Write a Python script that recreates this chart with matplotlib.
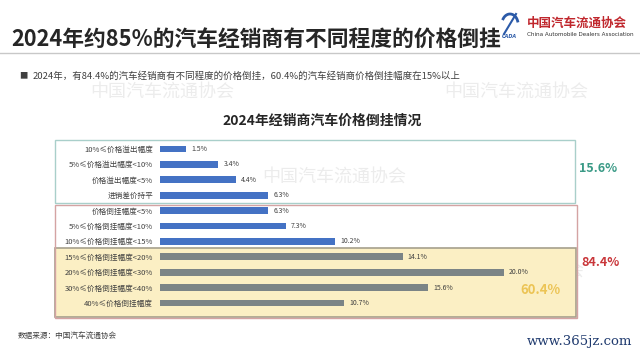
import numpy as np
import matplotlib
matplotlib.use("Agg")
import matplotlib.pyplot as plt
from matplotlib.patches import Rectangle

plt.rcParams['font.family'] = ['Noto Sans CJK SC', 'DejaVu Sans']

# data
cats = ["10%≤价格溢出幅度", "5%≤价格溢出幅度<10%", "价格溢出幅度<5%", "进销差价持平",
        "价格倒挂幅度<5%", "5%≤价格倒挂幅度<10%", "10%≤价格倒挂幅度<15%",
        "15%≤价格倒挂幅度<20%", "20%≤价格倒挂幅度<30%", "30%≤价格倒挂幅度<40%",
        "40%≤价格倒挂幅度"]
vals = [1.5, 3.4, 4.4, 6.3, 6.3, 7.3, 10.2, 14.1, 20.0, 15.6, 10.7]
groups = ["15.6%", "84.4%", "60.4%"]

W, H = 640, 356
fig = plt.figure(figsize=(W / 100, H / 100), dpi=100)

# background axes in pixel coords
bg = fig.add_axes([0, 0, 1, 1])
bg.set_xlim(0, W)
bg.set_ylim(H, 0)
bg.axis('off')

bg.text(11, 40, "2024年约85%的汽车经销商有不同程度的价格倒挂", fontsize=15.7,
        fontweight='bold', color='#262626', va='center', ha='left')
bg.plot([0, W], [53, 53], color='#c8c8c8', lw=1)

# logo
bg.text(527, 23, "中国汽车流通协会", fontsize=9, fontweight='bold', color='#c0272d',
        va='center', ha='left', family='Noto Sans CJK SC')
bg.text(527, 35, "China Automobile Dealers Association", fontsize=4.1, color='#333333',
        va='center', ha='left', family='DejaVu Sans')
th = np.linspace(0.3, 2.6, 30)
bg.plot(510 + 8 * np.cos(th), 24 - 10 * np.sin(th), color='#2b5aa8', lw=2)
bg.plot([504, 516], [34, 14], color='#2b5aa8', lw=1.5)
bg.text(509, 37, "CADA", fontsize=3.5, color='#2b5aa8', fontweight='bold', ha='center', va='center',
        family='DejaVu Sans', style='italic')

bg.text(19, 76, "■", fontsize=6, color='#404040', va='center')
bg.text(33, 76, "2024年，有84.4%的汽车经销商有不同程度的价格倒挂，60.4%的汽车经销商价格倒挂幅度在15%以上",
        fontsize=6.8, color='#404040', va='center', ha='left')

# watermarks
for (wx, wy) in [(90, 92), (444, 92), (262, 177), (440, 271)]:
    bg.text(wx, wy, "中国汽车流通协会", fontsize=13, color='#ececec', va='center', ha='left',
            family='Noto Sans CJK SC', zorder=0)

bg.text(322, 121, "2024年经销商汽车价格倒挂情况", fontsize=10, fontweight='bold',
        color='#262626', ha='center', va='center')

# group boxes
bg.add_patch(Rectangle((55, 248), 521, 69, facecolor='#fbefc4', edgecolor='#a6a08c', lw=1.2, zorder=1))
bg.add_patch(Rectangle((55, 205), 522, 113, facecolor='none', edgecolor='#d4a3a3', lw=1, zorder=2))
bg.add_patch(Rectangle((55, 140), 520, 63, facecolor='none', edgecolor='#a9cfca', lw=1, zorder=2))
bg.text(598, 169, groups[0], fontsize=9, fontweight='bold', color='#3a9a86', ha='center', va='center')
bg.text(601, 263, groups[1], fontsize=9, fontweight='bold', color='#c9363a', ha='center', va='center')
bg.text(540, 290, groups[2], fontsize=9.5, fontweight='bold', color='#ecc455', ha='center', va='center')

bg.text(18, 337, "数据来源：中国汽车流通协会", fontsize=5.5, color='#404040', va='center')
bg.text(632, 341, "www.365jz.com", fontsize=9.5, color='#1f3a6e', ha='right', va='center',
        family='DejaVu Serif')

# chart axes
px = 17.2
n = len(cats)
y0 = 149 - 0.5 * 15.4
hgt = n * 15.4
ax = fig.add_axes([160 / W, 1 - (y0 + hgt) / H, 25 * px / W, hgt / H], zorder=3)
ax.patch.set_alpha(0)
ax.set_xlim(0, 25)
ax.set_ylim(n - 0.5, -0.5)
ypos = np.arange(n)
colors = ['#4472c4'] * 7 + ['#7b8486'] * 4
ax.barh(ypos, vals, height=0.45, color=colors)
for y, v in zip(ypos, vals):
    ax.text(v + 0.3, y, f"{v:.1f}%", fontsize=5, color='#404040', va='center', ha='left')
ax.set_yticks(ypos)
ax.set_yticklabels(cats, fontsize=5.5, color='#404040')
ax.tick_params(axis='y', length=0, pad=5)
ax.set_xticks([])
for s in ax.spines.values():
    s.set_visible(False)

fig.savefig("out.png", dpi=100)
